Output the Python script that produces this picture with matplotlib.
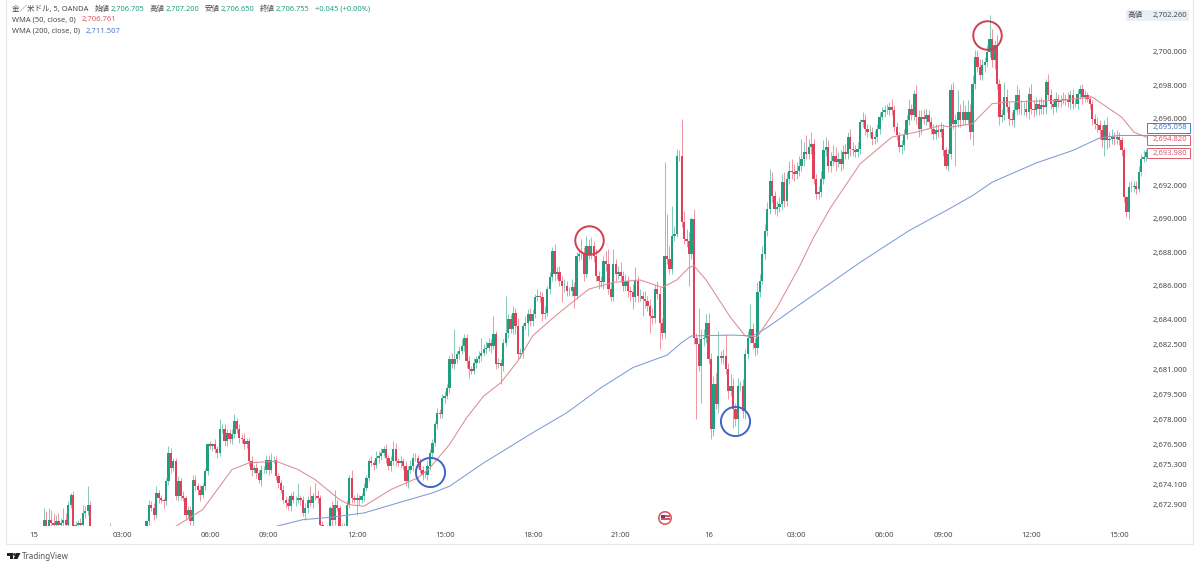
#!/usr/bin/python3
"""XAU/USD 5 minute candles with WMA 50 / WMA 200, TradingView style screenshot."""

import matplotlib
matplotlib.use("Agg")
import matplotlib.pyplot as plt
from matplotlib.patches import Circle, Polygon, Rectangle

plt.rcParams['font.family'] = ['Noto Sans', 'Noto Sans CJK JP', 'DejaVu Sans']

# ── Candle data: close per 5 min bar, 12 bars per row ─────────────────────────
closes = [
    2671.0, 2671.1, 2671.3, 2671.4, 2672.0, 2671.6, 2672.0, 2671.8, 2671.7, 2671.9, 2671.7, 2671.8,
    2672.0, 2671.7, 2672.9, 2673.5, 2671.6, 2671.7, 2671.8, 2671.7, 2672.4, 2672.5, 2672.9, 2671.4,
    2671.2, 2671.1, 2671.0, 2670.9, 2670.8, 2671.0, 2671.1, 2671.2, 2671.0, 2670.9, 2670.8, 2671.0,
    2671.1, 2671.0, 2670.8, 2670.9, 2671.0, 2671.1, 2671.2, 2671.1, 2671.2, 2671.4, 2671.9, 2672.9,
    2672.7, 2672.3, 2673.6, 2673.3, 2673.2, 2673.1, 2674.3, 2676.0, 2675.1, 2675.5, 2673.4, 2674.3,
    2673.4, 2673.3, 2672.3, 2672.6, 2671.9, 2674.4, 2674.0, 2673.8, 2673.5, 2674.0, 2674.9, 2676.5,
    2676.4, 2676.5, 2676.2, 2676.0, 2677.4, 2677.4, 2676.7, 2677.2, 2676.8, 2677.1, 2677.9, 2677.4,
    2676.9, 2676.8, 2676.5, 2676.7, 2675.5, 2675.0, 2675.1, 2674.8, 2674.4, 2675.0, 2675.0, 2675.6,
    2675.0, 2675.6, 2675.6, 2674.6, 2674.2, 2673.8, 2673.2, 2673.0, 2672.8, 2673.4, 2673.2, 2673.2,
    2673.3, 2673.2, 2672.4, 2672.7, 2673.2, 2673.0, 2673.4, 2673.4, 2673.3, 2671.7, 2671.3, 2671.0,
    2671.5, 2672.7, 2672.0, 2672.9, 2672.7, 2671.6, 2671.4, 2671.6, 2672.9, 2674.5, 2673.3, 2673.2,
    2673.3, 2673.2, 2673.4, 2673.9, 2674.5, 2675.5, 2675.4, 2675.3, 2675.7, 2675.8, 2676.0, 2676.2,
    2675.7, 2675.2, 2675.5, 2676.2, 2675.5, 2675.4, 2675.5, 2675.2, 2674.3, 2675.0, 2675.2, 2675.7,
    2675.7, 2675.4, 2675.0, 2674.7, 2674.7, 2675.2, 2676.0, 2676.6, 2677.7, 2678.4, 2678.3, 2679.3,
    2679.4, 2679.9, 2681.6, 2681.3, 2681.6, 2681.9, 2682.1, 2682.4, 2682.9, 2681.5, 2681.0, 2680.9,
    2681.4, 2681.6, 2681.8, 2682.0, 2682.2, 2682.3, 2682.6, 2682.4, 2683.1, 2681.3, 2681.4, 2681.2,
    2682.6, 2683.2, 2684.0, 2683.4, 2684.4, 2683.6, 2681.9, 2682.0, 2683.6, 2683.8, 2684.3, 2683.9,
    2684.3, 2685.3, 2685.4, 2685.3, 2684.3, 2684.4, 2685.8, 2686.5, 2688.1, 2686.7, 2686.8, 2686.3,
    2686.0, 2686.0, 2685.7, 2685.7, 2685.9, 2685.4, 2687.8, 2687.9, 2687.9, 2686.7, 2688.4, 2687.9,
    2688.4, 2687.8, 2686.6, 2686.3, 2686.2, 2687.5, 2687.3, 2685.8, 2685.3, 2687.3, 2686.7, 2686.8,
    2686.6, 2686.0, 2686.3, 2685.7, 2685.6, 2685.3, 2686.3, 2685.4, 2685.4, 2685.2, 2685.1, 2684.8,
    2684.2, 2684.1, 2685.8, 2685.5, 2683.8, 2683.2, 2687.8, 2687.6, 2687.0, 2689.0, 2689.1, 2693.8,
    2693.8, 2689.8, 2688.8, 2688.7, 2687.9, 2690.0, 2682.9, 2682.5, 2681.2, 2682.8, 2682.9, 2683.8,
    2681.6, 2677.4, 2680.1, 2678.9, 2681.8, 2681.7, 2681.8, 2681.0, 2679.7, 2680.0, 2678.6, 2678.0,
    2680.0, 2680.0, 2678.5, 2681.9, 2682.9, 2683.4, 2682.6, 2682.3, 2685.6, 2686.3, 2687.9, 2689.3,
    2690.6, 2692.3, 2691.4, 2690.6, 2690.7, 2690.9, 2692.2, 2691.1, 2692.4, 2692.9, 2692.8, 2692.7,
    2692.9, 2693.2, 2693.6, 2694.0, 2693.9, 2694.3, 2694.5, 2692.4, 2691.5, 2691.6, 2692.4, 2694.1,
    2694.3, 2693.2, 2693.5, 2693.8, 2693.4, 2693.6, 2693.3, 2694.0, 2693.9, 2694.9, 2694.2, 2694.1,
    2694.0, 2694.2, 2695.8, 2695.9, 2695.4, 2695.2, 2695.2, 2694.8, 2694.9, 2695.4, 2696.1, 2696.4,
    2696.5, 2696.5, 2696.7, 2696.5, 2695.5, 2695.0, 2694.3, 2694.4, 2695.0, 2695.9, 2696.6, 2696.2,
    2697.5, 2696.1, 2695.4, 2696.1, 2696.0, 2696.2, 2695.8, 2695.4, 2695.1, 2695.3, 2695.2, 2695.4,
    2694.1, 2693.2, 2693.9, 2697.7, 2695.7, 2695.9, 2696.4, 2695.9, 2696.4, 2695.9, 2696.4, 2695.2,
    2698.1, 2699.7, 2699.1, 2698.6, 2699.2, 2699.4, 2700.0, 2700.8, 2699.5, 2700.4, 2698.1, 2696.1,
    2696.2, 2697.3, 2696.7, 2696.0, 2695.9, 2696.5, 2697.4, 2696.6, 2696.6, 2696.6, 2696.4, 2697.5,
    2696.6, 2696.5, 2696.9, 2696.6, 2696.8, 2696.7, 2698.2, 2697.4, 2696.9, 2696.7, 2697.2, 2697.0,
    2697.1, 2697.2, 2697.1, 2697.0, 2697.4, 2696.9, 2696.9, 2697.5, 2697.8, 2697.3, 2697.4, 2697.2,
    2696.9, 2696.0, 2695.7, 2695.6, 2695.3, 2694.7, 2695.6, 2694.7, 2694.8, 2694.9, 2694.8, 2694.9,
    2694.7, 2694.1, 2691.3, 2690.4, 2691.9, 2691.9, 2692.0, 2691.8, 2692.8, 2693.6, 2693.7, 2694.0,
]

# wick length above / below the body, in 0.1 dollar steps
wick_up = [
    1, 1, 2, 1, 7, 5, 7, 6, 6, 4, 5, 3,
    7, 4, 2, 1, 2, 2, 2, 3, 5, 3, 11, 2,
    1, 1, 1, 2, 2, 1, 1, 6, 1, 1, 2, 1,
    1, 1, 2, 2, 1, 1, 2, 1, 1, 2, 1, 3,
    2, 3, 4, 2, 2, 1, 2, 4, 3, 2, 2, 3,
    2, 3, 1, 2, 2, 3, 3, 2, 3, 2, 2, 1,
    2, 1, 3, 2, 6, 3, 3, 2, 2, 3, 4, 2,
    3, 2, 4, 2, 2, 3, 2, 3, 2, 3, 2, 3,
    3, 4, 2, 2, 2, 2, 3, 2, 3, 2, 3, 2,
    9, 2, 2, 3, 2, 8, 2, 8, 4, 2, 2, 2,
    2, 1, 4, 9, 3, 2, 2, 2, 3, 2, 5, 2,
    3, 2, 2, 3, 2, 2, 3, 2, 4, 3, 3, 2,
    3, 2, 3, 5, 4, 2, 3, 2, 3, 2, 4, 3,
    3, 2, 3, 2, 2, 3, 2, 2, 2, 3, 2, 2,
    3, 2, 2, 4, 18, 2, 3, 4, 2, 2, 3, 2,
    3, 2, 3, 9, 3, 4, 3, 2, 11, 2, 3, 2,
    2, 22, 3, 3, 4, 3, 5, 3, 2, 4, 3, 4,
    3, 2, 4, 3, 3, 4, 2, 3, 2, 4, 3, 4,
    3, 4, 3, 2, 5, 3, 2, 3, 9, 4, 6, 4,
    5, 3, 4, 3, 3, 3, 6, 9, 4, 9, 3, 4,
    6, 3, 4, 3, 3, 5, 8, 3, 4, 3, 5, 3,
    4, 5, 3, 5, 4, 3, 56, 25, 8, 18, 5, 4,
    3, 22, 7, 6, 5, 1, 6, 3, 22, 6, 5, 5,
    6, 4, 5, 7, 15, 3, 4, 13, 4, 7, 5, 4,
    5, 3, 4, 3, 4, 15, 4, 3, 6, 4, 5, 4,
    4, 7, 5, 3, 4, 4, 5, 6, 4, 6, 7, 5,
    5, 6, 12, 6, 10, 5, 7, 3, 3, 4, 5, 6,
    6, 4, 5, 6, 5, 4, 5, 4, 5, 3, 5, 4,
    3, 4, 2, 5, 4, 3, 4, 3, 4, 3, 3, 3,
    3, 4, 3, 5, 3, 3, 2, 3, 4, 3, 6, 3,
    2, 5, 4, 4, 5, 4, 3, 3, 3, 4, 3, 4,
    3, 2, 3, 4, 5, 4, 13, 5, 7, 4, 7, 5,
    5, 4, 4, 5, 4, 3, 4, 14, 6, 3, 6, 3,
    4, 9, 5, 3, 4, 5, 6, 4, 5, 4, 5, 4,
    6, 5, 4, 3, 5, 3, 2, 5, 4, 3, 4, 3,
    3, 4, 3, 5, 3, 4, 3, 3, 2, 3, 3, 2,
    2, 2, 3, 4, 3, 3, 3, 5, 4, 5, 3, 4,
    3, 2, 2, 1, 3, 4, 3, 3, 4, 3, 4, 2,
]
wick_dn = [
    1, 1, 1, 1, 3, 2, 2, 3, 2, 2, 3, 2,
    2, 3, 2, 2, 1, 2, 2, 3, 2, 3, 2, 2,
    1, 2, 2, 1, 1, 2, 1, 2, 1, 1, 2, 1,
    1, 2, 1, 1, 2, 1, 1, 2, 1, 1, 3, 2,
    2, 3, 2, 3, 2, 4, 2, 2, 3, 2, 2, 3,
    2, 2, 3, 2, 2, 3, 2, 3, 4, 2, 2, 2,
    2, 3, 2, 3, 2, 2, 3, 3, 2, 3, 2, 2,
    3, 2, 3, 2, 3, 4, 2, 3, 2, 4, 2, 2,
    3, 2, 2, 2, 3, 2, 2, 3, 2, 3, 2, 4,
    2, 3, 2, 4, 3, 2, 3, 2, 3, 2, 3, 3,
    2, 3, 4, 3, 2, 3, 2, 3, 4, 2, 3, 2,
    9, 3, 2, 3, 2, 2, 2, 3, 2, 3, 2, 2,
    3, 2, 3, 2, 3, 2, 3, 2, 3, 4, 2, 3,
    2, 3, 2, 3, 2, 3, 2, 3, 2, 3, 2, 2,
    3, 2, 3, 2, 3, 2, 3, 2, 3, 4, 5, 2,
    2, 3, 2, 3, 2, 3, 2, 4, 2, 3, 2, 11,
    3, 2, 3, 2, 3, 5, 3, 2, 3, 2, 8, 3,
    3, 2, 2, 3, 4, 3, 2, 3, 2, 4, 3, 3,
    10, 4, 3, 3, 3, 7, 2, 3, 3, 4, 2, 3,
    3, 4, 3, 5, 3, 4, 4, 3, 2, 2, 4, 3,
    4, 3, 3, 4, 5, 7, 3, 4, 3, 10, 4, 3,
    10, 4, 3, 3, 16, 4, 3, 3, 3, 3, 3, 2,
    3, 3, 3, 4, 19, 3, 4, 45, 3, 22, 4, 3,
    3, 6, 4, 3, 5, 3, 4, 3, 5, 3, 11, 4,
    9, 3, 4, 5, 3, 3, 4, 5, 4, 3, 2, 3,
    3, 3, 4, 3, 4, 3, 3, 4, 3, 3, 4, 4,
    3, 3, 3, 4, 3, 3, 4, 3, 3, 3, 3, 3,
    3, 4, 4, 3, 5, 3, 4, 3, 3, 3, 4, 3,
    3, 3, 3, 3, 4, 3, 3, 4, 3, 3, 3, 2,
    3, 2, 3, 3, 3, 3, 3, 4, 3, 2, 3, 3,
    3, 4, 5, 3, 3, 4, 3, 3, 4, 3, 3, 3,
    3, 2, 3, 3, 3, 25, 4, 4, 3, 3, 3, 4,
    8, 3, 3, 3, 3, 4, 3, 3, 4, 5, 3, 5,
    3, 3, 3, 4, 3, 4, 3, 3, 4, 4, 3, 4,
    3, 4, 3, 4, 3, 4, 4, 3, 3, 4, 3, 3,
    3, 2, 3, 3, 4, 3, 2, 3, 3, 4, 3, 2,
    3, 4, 3, 4, 5, 4, 9, 5, 4, 3, 4, 3,
    3, 3, 3, 3, 4, 3, 3, 3, 2, 2, 2, 2,
]

wma50_bars = [58, 69, 76, 81, 88, 99, 108, 115, 125, 129, 135, 146, 157, 162, 170, 177, 184,
              191, 198, 204, 211, 215, 221, 227, 237, 248, 257, 263, 268, 270, 275, 285, 291,
              296, 304, 313, 319, 326, 338, 351, 361, 371, 375, 384, 392, 398, 420, 433, 445,
              450, 456]
wma50_vals = [2671.6, 2672.6, 2674.0, 2675.0, 2675.4, 2675.5, 2675.0, 2674.4, 2673.2, 2672.9,
              2672.8, 2673.8, 2674.5, 2675.1, 2676.5, 2678.1, 2679.4, 2680.2, 2681.5, 2683.0,
              2683.9, 2684.4, 2685.1, 2685.8, 2686.2, 2686.35, 2685.9, 2686.35, 2687.1, 2687.2,
              2686.35, 2684.1, 2683.0, 2682.95, 2684.7, 2687.1, 2688.9, 2690.7, 2693.3, 2694.9,
              2695.2, 2695.6, 2695.5, 2695.7, 2696.9, 2697.0, 2697.1, 2697.3, 2696.1, 2695.2,
              2694.85]

wma200_bars = [98, 110, 122, 135, 150, 163, 170, 184, 204, 218, 232, 245, 259, 265, 269,
               286, 294, 300, 313, 338, 358, 375, 384, 392, 410, 425, 436, 444, 456]
wma200_vals = [2671.56, 2672.0, 2672.15, 2672.4, 2673.05, 2673.6, 2674.0, 2675.4, 2677.2,
               2678.4, 2679.9, 2681.1, 2681.85, 2682.6, 2683.0, 2683.05, 2683.0, 2683.5,
               2684.85, 2687.4, 2689.3, 2690.65, 2691.4, 2692.2, 2693.35, 2694.1, 2694.85,
               2695.0, 2695.0]

# hand drawn circles on the screenshot
red_circle_bars = [227, 390]
red_circle_vals = [2688.74, 2701.0]
blue_circle_bars = [162, 287]
blue_circle_vals = [2674.85, 2677.9]

# ── Axis labels ───────────────────────────────────────────────────────────────
time_bars = [0, 36, 72, 96, 132, 168, 204, 240, 276, 312, 348, 372, 408, 444]
time_labels = ["15", "03:00", "06:00", "09:00", "12:00", "15:00", "18:00", "21:00",
               "16", "03:00", "06:00", "09:00", "12:00", "15:00"]
price_ticks = [2700, 2698, 2696, 2692, 2690, 2688, 2686, 2684, 2682.5, 2681,
               2679.5, 2678, 2676.5, 2675.3, 2674.1, 2672.9]

GREEN = "#1f9e80"
RED = "#e2405a"
GRAY = "#4a4a4a"
MA_RED = "#dc8c94"
MA_BLUE = "#7f9bd6"

# ── Derive candle bodies and wicks ────────────────────────────────────────────
bars = list(range(len(closes)))
opens = [closes[0]] + closes[:-1]
tops = [max(o, c) for o, c in zip(opens, closes)]
bottoms = [min(o, c) for o, c in zip(opens, closes)]
highs = [t + u * 0.1 for t, u in zip(tops, wick_up)]
lows = [b - d * 0.1 for b, d in zip(bottoms, wick_dn)]
colors = [GREEN if c >= o else RED for o, c in zip(opens, closes)]

fig = plt.figure(figsize=(12, 5.68), dpi=100, facecolor="white")
ax = fig.add_axes([7 / 1200, 42 / 568, 1141 / 1200, 521 / 568])
ax.set_xlim(-11.05, 455.8)
ax.set_ylim(2671.62, 2702.81)
for side in ax.spines.values():
    side.set_visible(False)

ax.vlines(bars, lows, highs, colors=colors, linewidth=0.7, alpha=0.55, zorder=2)
ax.bar(bars, [t - b for t, b in zip(tops, bottoms)], bottom=bottoms, width=0.95,
       color=colors, linewidth=0, zorder=3)

ax.plot(wma50_bars, wma50_vals, color=MA_RED, linewidth=0.75, zorder=4)
ax.plot(wma200_bars, wma200_vals, color=MA_BLUE, linewidth=0.75, zorder=4)

ax.plot(red_circle_bars, red_circle_vals, linestyle="none", marker="o", markersize=20.5,
        markerfacecolor="none", markeredgecolor="#cf3f50", markeredgewidth=1.4, zorder=5)
ax.plot(blue_circle_bars, blue_circle_vals, linestyle="none", marker="o", markersize=21,
        markerfacecolor="none", markeredgecolor="#3f64c8", markeredgewidth=1.4, zorder=5)

ax.set_xticks(time_bars)
ax.set_xticklabels(time_labels)
ax.yaxis.tick_right()
ax.set_yticks(price_ticks)
ax.set_yticklabels([f"{p:,.3f}" for p in price_ticks])
ax.tick_params(axis="x", length=0, pad=4.5, labelsize=5.5, labelcolor=GRAY)
ax.tick_params(axis="y", length=0, pad=3.5, labelsize=5.5, labelcolor=GRAY)

# ── Overlay in screen pixels: frame, header, price tags, logo ─────────────────
ov = fig.add_axes([0, 0, 1, 1], zorder=10)
ov.set_xlim(0, 1200)
ov.set_ylim(568, 0)
ov.axis("off")

ov.plot([6, 6, 1193, 1193], [0, 544, 544, 0], color="#e8e8e8", linewidth=0.8)

header = [
    (12, "金／米ドル, 5, OANDA", GRAY), (95, "始値", GRAY), (110.5, "2,706.705", GREEN),
    (150, "高値", GRAY), (166, "2,707.200", GREEN), (205, "安値", GRAY),
    (220.5, "2,706.650", GREEN), (260, "終値", GRAY), (275.5, "2,706.755", GREEN),
    (315, "+0.045 (+0.00%)", GREEN),
]
for x, label, col in header:
    ov.text(x, 9, label, color=col, fontsize=5.4, va="center", ha="left")
ov.text(12, 20, "WMA (50, close, 0)", color=GRAY, fontsize=5.4, va="center")
ov.text(82, 20, "2,706.761", color="#dc5a68", fontsize=5.5, va="center")
ov.text(12, 31, "WMA (200, close, 0)", color=GRAY, fontsize=5.4, va="center")
ov.text(86, 31, "2,711.507", color="#4a78cc", fontsize=5.5, va="center")

# session high tag
ov.add_patch(Rectangle((1126, 10), 63, 11, facecolor="#e9eff8", edgecolor="none", zorder=3))
ov.text(1128, 15.5, "高値", color=GRAY, fontsize=5.5, va="center", zorder=4)
ov.text(1187, 15.5, "2,702.260", color=GRAY, fontsize=5.5, va="center", ha="right", zorder=4)

price_tags = [(128, "2,695.058", "#4a78cc"), (139.5, "2,694.820", "#d95a6c"), (153, "2,693.980", "#d95a6c")]
for y, label, col in price_tags:
    ov.add_patch(Rectangle((1147, y - 5), 43, 10, facecolor="white", edgecolor=col,
                           linewidth=0.7, zorder=3))
    ov.text(1187, y, label, color=col, fontsize=5.5, va="center", ha="right", zorder=4)

# event flag on the time scale
ov.add_patch(Circle((665, 518), 7, facecolor="#d9545f", edgecolor="none", zorder=3))
ov.add_patch(Circle((665, 518), 5.4, facecolor="white", edgecolor="none", zorder=4))
ov.add_patch(Rectangle((660.5, 515), 9, 1.5, facecolor="#d9545f", edgecolor="none", zorder=5))
ov.add_patch(Rectangle((660.5, 518), 9, 1.5, facecolor="#d9545f", edgecolor="none", zorder=5))
ov.add_patch(Rectangle((660.5, 514.5), 4, 3.5, facecolor="#3a4f9c", edgecolor="none", zorder=6))

# TradingView logo
ov.add_patch(Polygon([(7, 553), (13, 553), (13, 559), (10, 559), (10, 555.5), (7, 555.5)],
                     facecolor="#222222", edgecolor="none"))
ov.add_patch(Circle((14.4, 554.4), 1.3, facecolor="#222222", edgecolor="none"))
ov.add_patch(Polygon([(16, 553), (20.5, 553), (17.5, 559), (13.5, 559)],
                     facecolor="#222222", edgecolor="none"))
ov.text(22, 556.5, "TradingView", color="#555555", fontsize=5.8, va="center")

fig.savefig("out.png", dpi=100, facecolor="white")
